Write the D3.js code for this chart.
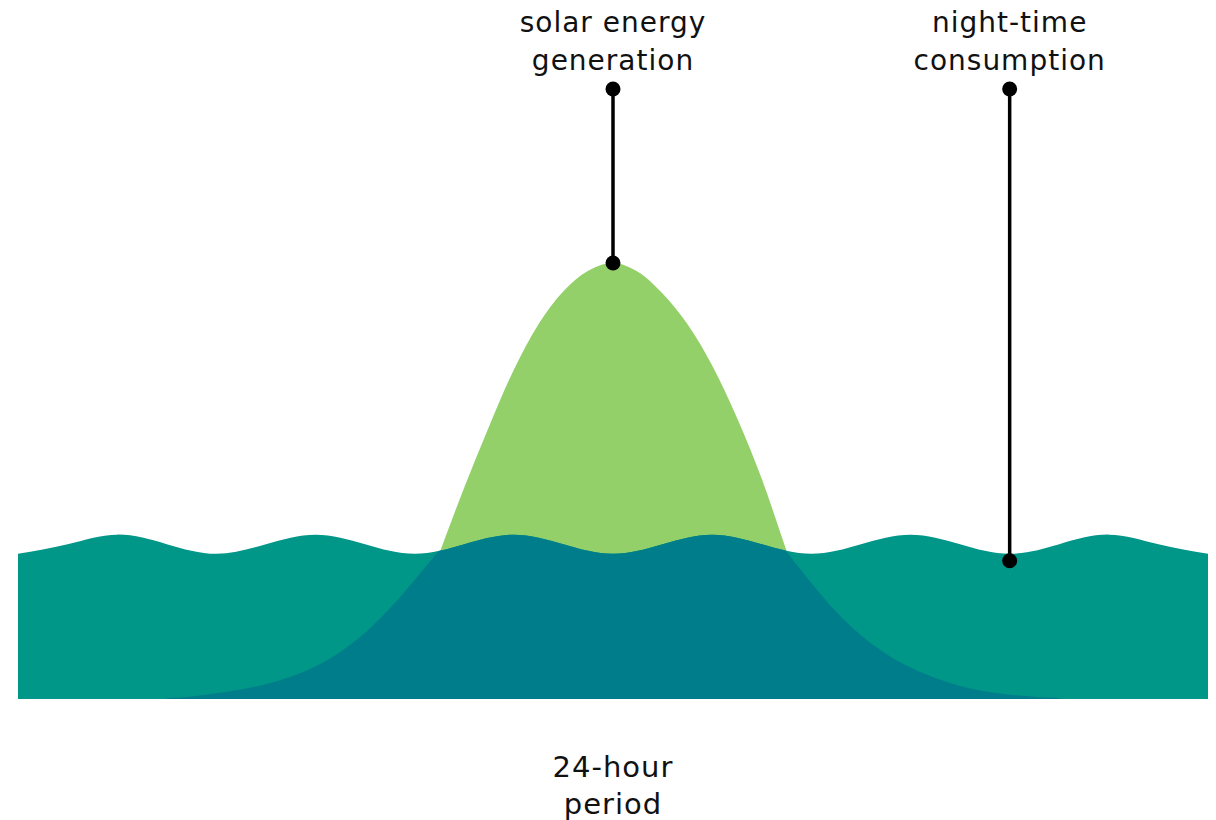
<!DOCTYPE html>
<html>
<head>
<meta charset="utf-8">
<script src="https://cdn.jsdelivr.net/npm/d3@7"></script>
<style>
  body { margin: 0; background: #ffffff; }
  text { font-family: "DejaVu Sans", sans-serif; fill: #111111; }
</style>
</head>
<body>
<div id="chart"></div>
<script>
// hours of the day and the consumption wave (relative units, solar peak = 100)
let consumptionHours = [0, 1, 2, 3, 4, 5, 6, 7, 8, 9, 10, 11, 12, 13, 14, 15, 16, 17, 18, 19, 20, 21, 22, 23, 24]
let consumption = [33.3, 35.5, 37.7, 35.5, 33.3, 35.5, 37.7, 35.5, 33.3, 35.5, 37.7, 35.5, 33.3,
                   35.5, 37.7, 35.5, 33.3, 35.5, 37.7, 35.5, 33.3, 35.5, 37.7, 35.5, 33.3]

// solar generation (the green peak)
let solarHours = [8, 8.5, 9, 9.5, 10, 10.5, 11, 11.5, 12, 12.5, 13, 13.5, 14, 14.5, 15, 15.5, 16]
let solar = [18, 33.5, 48.5, 62.5, 75.5, 86, 93.5, 98.2, 100, 98, 93, 86, 76.5, 64.5, 50.5, 34, 18]

// solar used directly by consumption (dark overlap, clipped to the consumption band)
let sharedHours = [3, 3.5, 4, 4.5, 5, 5.5, 6, 6.5, 7, 7.5, 8, 8.5, 9, 9.5, 10, 10.5, 11, 11.5, 12,
                   12.5, 13, 13.5, 14, 14.5, 15, 15.5, 16, 16.5, 17, 17.5, 18, 18.5, 19, 19.5, 20, 20.5, 21]
let shared = [0.2, 0.6, 1.3, 2.2, 3.4, 5.1, 7.5, 10.8, 15.2, 20.8, 27.3, 34.2, 41, 48, 54, 59, 62, 64, 65,
              64, 62, 59, 54, 48, 41, 33.8, 26.6, 20, 14.6, 10.4, 7.2, 4.8, 3.0, 1.8, 1.0, 0.5, 0.2]

let svgWidth = 1216,
    svgHeight = 820

let svg = d3.select("#chart")
  .append("svg")
  .attr("width", svgWidth)
  .attr("height", svgHeight)

let x = d3.scaleLinear().domain([0, 24]).range([18, 1208])
let y = d3.scaleLinear().domain([0, 100]).range([699, 263])

function zip(hs, vs) {
  return hs.map((h, i) => ({ h: h, v: vs[i] }))
}

function makeArea(curve) {
  return d3.area()
    .x(d => x(d.h))
    .y0(y(0))
    .y1(d => y(d.v))
    .curve(curve)
}

let waveArea = makeArea(d3.curveNatural)
let bellArea = makeArea(d3.curveCatmullRom.alpha(0.5))

let consumptionData = zip(consumptionHours, consumption)

// green solar peak
svg.append("path")
  .attr("d", bellArea(zip(solarHours, solar)))
  .attr("fill", "#94d069")

// consumption band
svg.append("path")
  .attr("d", waveArea(consumptionData))
  .attr("fill", "#009688")

svg.append("clipPath")
  .attr("id", "band")
  .append("path")
  .attr("d", waveArea(consumptionData))

// overlap
svg.append("path")
  .attr("d", bellArea(zip(sharedHours, shared)))
  .attr("fill", "#007d8a")
  .attr("clip-path", "url(#band)")

// annotations
let notes = [
  { h: 12, bottom: y(100), lines: ["solar energy", "generation"] },
  { h: 20, bottom: y(consumption[20]) + 7, lines: ["night-time", "consumption"] }
]

notes.forEach(n => {
  let g = svg.append("g")
  g.append("line")
    .attr("x1", x(n.h)).attr("x2", x(n.h))
    .attr("y1", 89).attr("y2", n.bottom)
    .attr("stroke", "#000").attr("stroke-width", 3.5)
  g.selectAll("circle")
    .data([89, n.bottom])
    .enter()
    .append("circle")
    .attr("cx", x(n.h))
    .attr("cy", d => d)
    .attr("r", 7.5)
    .attr("fill", "#000")
  g.selectAll("text")
    .data(n.lines)
    .enter()
    .append("text")
    .attr("x", x(n.h))
    .attr("y", (d, i) => 32 + i * 38)
    .attr("text-anchor", "middle")
    .attr("font-size", 28)
    .attr("letter-spacing", 1)
    .text(d => d)
})

// x axis label
svg.selectAll("text.xlabel")
  .data(["24-hour", "period"])
  .enter()
  .append("text")
  .attr("class", "xlabel")
  .attr("x", x(12))
  .attr("y", (d, i) => 777 + i * 37)
  .attr("text-anchor", "middle")
  .attr("font-size", 29)
  .attr("letter-spacing", 1)
  .text(d => d)
</script>
</body>
</html>
